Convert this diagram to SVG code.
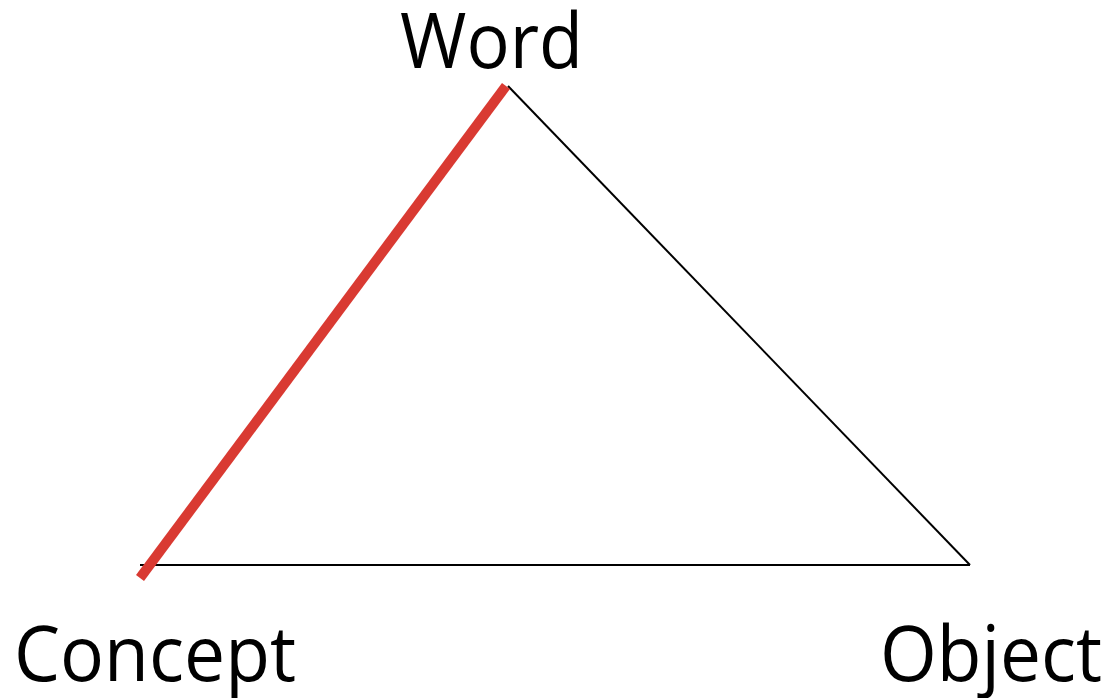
<svg xmlns="http://www.w3.org/2000/svg" width="1114" height="698" viewBox="0 0 1114 698">
<style>
.lbl{font-family:"Open Sans","Liberation Sans",sans-serif;font-size:76px;fill:#000}
.thin{stroke:#000;stroke-width:2;fill:none}
.thick{stroke:#D93A32;stroke-width:10;fill:none}
</style>
<rect width="1114" height="698" fill="#fff"/>
<g id="connectors">
<line class="thin" x1="508" y1="86" x2="970" y2="565"/>
<line class="thin" x1="140" y1="565" x2="970" y2="565"/>
<line class="thick" x1="140" y1="578" x2="506" y2="86"/>
</g>
<g id="word"><text class="lbl" x="400" y="68" textLength="183" lengthAdjust="spacingAndGlyphs">Word</text></g>
<g id="concept"><text class="lbl" x="14" y="681" textLength="282" lengthAdjust="spacingAndGlyphs">Concept</text></g>
<g id="object"><text class="lbl" x="880" y="681" textLength="222" lengthAdjust="spacingAndGlyphs">Object</text></g>
</svg>
